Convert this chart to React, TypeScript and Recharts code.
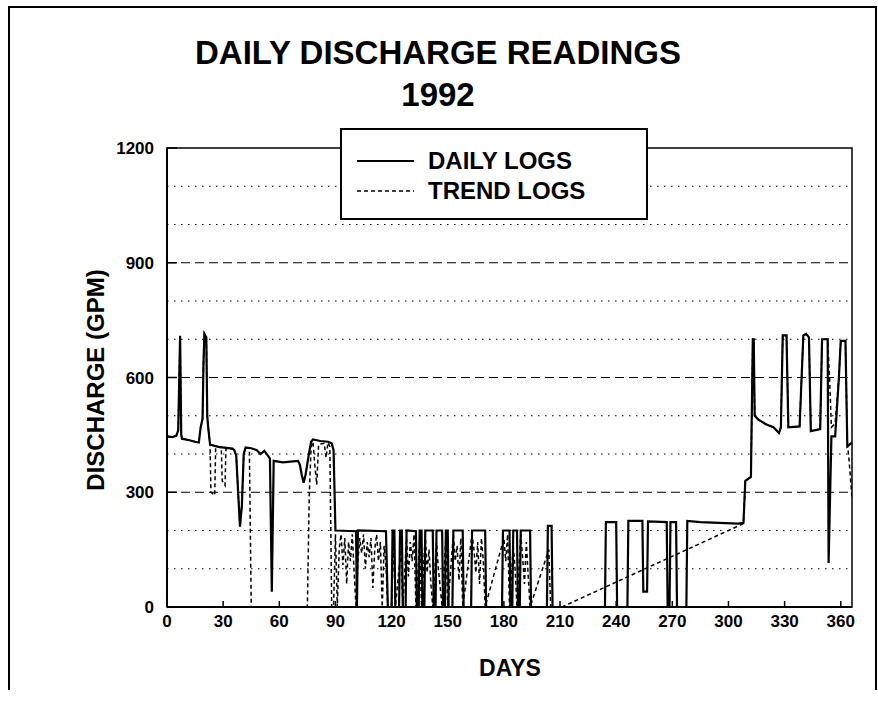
import React from 'react';
import {
  LineChart,
  Line,
  XAxis,
  YAxis,
  ReferenceLine,
  ReferenceArea,
  Legend,
} from 'recharts';

const FONT = '"Liberation Sans", Arial, Helvetica, sans-serif';

const xTicks = [0, 30, 60, 90, 120, 150, 180, 210, 240, 270, 300, 330, 360];
const yTicks = [0, 300, 600, 900, 1200];
const gridMajor = [300, 600, 900];
const gridMinor = [100, 200, 400, 500, 700, 800, 1000, 1100];

// [day, discharge gpm]
const dailyLogs: [number, number][] = [
  [0, 446], [3, 444], [5, 448], [6, 462], [7, 709], [7.6, 452], [8, 440], [12, 436], [15, 432],
  [17, 430], [18, 470], [19, 492], [19.5, 640], [20, 714], [21, 705], [21.5, 500], [22, 470],
  [23, 425], [25, 422], [28, 418], [32, 416], [35, 414], [36, 410], [37, 395], [38, 300],
  [39, 210], [40, 265], [41, 400], [42, 417], [45, 415], [48, 410], [50, 400], [52, 408],
  [54, 395], [55, 388], [56, 40], [57, 382], [62, 378], [66, 380], [70, 382], [71, 372],
  [72, 345], [73, 325], [74, 345], [76, 405], [77, 432], [78, 438], [82, 434], [86, 432],
  [88, 428], [89, 410], [90, 200], [101, 198], [101.5, 0], [102, 200], [117, 198], [118, 0],
  [120, 0], [120.5, 200], [121.5, 200], [122, 0], [124, 0], [124.5, 200], [125.5, 200], [126, 0],
  [127.5, 0], [128, 200], [133, 198], [133.5, 0], [134.5, 0], [135, 200], [136, 200], [136.5, 0],
  [137.5, 0], [138, 200], [142, 200], [142.5, 0], [143.5, 0], [144, 200], [147, 200], [147.5, 0],
  [148.5, 0], [149, 200], [150, 200], [150.5, 0], [152.5, 0], [153, 200], [158, 200], [158.5, 0],
  [162.5, 0], [163, 200], [170, 200], [170.5, 0], [179, 0], [179.5, 200], [183, 200], [183.5, 0],
  [184.5, 0], [185, 200], [187, 200], [187.5, 0], [188.5, 0], [189, 200], [194, 200], [194.5, 0],
  [203, 0], [203.5, 212], [205.5, 212], [206, 0], [234, 0], [234.5, 222], [240, 222], [240.5, 0],
  [246, 0], [246.5, 225], [254, 225], [254.5, 40], [256.5, 40], [257, 224], [267, 222], [267.5, 0],
  [268.5, 0], [269, 222], [272, 222], [272.5, 0], [277.5, 0], [278, 225], [285, 222], [295, 220],
  [305, 218], [308, 220], [309, 330], [312, 340], [313, 700], [313.5, 700], [314, 500], [316, 490],
  [320, 478], [324, 470], [327, 455], [328, 470], [329, 710], [331, 710], [332, 470], [338, 472],
  [340, 710], [341.5, 714], [343, 705], [344, 460], [349, 465], [350, 700], [353, 700], [353.5, 115],
  [355, 446], [357, 446], [359, 600], [360, 696], [362.5, 696], [363.5, 420], [366, 430],
];

const trendLogs: [number, number][] = [
  [0, 446], [3, 444], [5, 448], [6, 462], [7, 709], [7.6, 452], [8, 440], [12, 436], [15, 432],
  [17, 430], [18, 470], [19, 492], [19.5, 640], [20, 714], [21, 705], [21.5, 500], [22, 470],
  [23, 425], [23.5, 300], [25.5, 292], [26, 418], [29, 418], [29.5, 330], [31, 318], [31.5, 414],
  [35, 414], [36, 410], [37, 395], [38, 300], [39, 210], [40, 265], [41, 400], [42, 417], [44, 414],
  [45, 0], [75, 0], [76, 290], [77, 420], [78, 432], [79, 370], [80, 320], [81, 425], [84, 428],
  [85, 390], [86, 430], [87, 420], [88, 0], [89, 0], [90, 190], [91, 0], [92, 150], [93, 190],
  [94, 110], [95, 180], [96, 60], [97, 170], [98, 120], [99, 190], [100, 90], [101, 0], [102, 120],
  [103, 180], [104, 140], [105, 190], [106, 100], [107, 170], [108, 130], [109, 180], [110, 50],
  [111, 150], [112, 190], [113, 120], [114, 170], [115, 0], [116, 160], [117, 110], [118, 0],
  [120, 0], [121, 190], [122, 0], [125, 150], [126, 0], [128, 180], [129, 80], [130, 170],
  [131, 120], [132, 190], [133, 0], [135, 170], [136, 0], [138, 190], [139, 90], [140, 150],
  [141, 60], [142, 0], [144, 170], [145, 100], [146, 50], [147, 0], [149, 180], [150, 0],
  [153, 190], [154, 120], [155, 160], [156, 70], [157, 180], [158, 0], [163, 190], [164, 150],
  [165, 90], [166, 170], [167, 60], [168, 180], [169, 120], [170, 0], [180, 180], [181, 120],
  [182, 190], [183, 0], [185, 160], [186, 100], [187, 0], [189, 190], [190, 130], [191, 60],
  [192, 170], [193, 80], [194, 0], [204, 150], [205, 0], [211, 0], [308, 218], [309, 330],
  [312, 340], [313, 700], [313.5, 700], [314, 500], [316, 490], [320, 478], [324, 470], [327, 455],
  [328, 470], [329, 710], [331, 710], [332, 470], [338, 472], [340, 710], [341.5, 714], [343, 705],
  [344, 460], [349, 465], [350, 700], [353, 700], [354, 600], [355, 470], [357, 480], [359, 600],
  [360, 696], [362.5, 696], [363.5, 430], [364.5, 380], [366, 285],
];

const dailyData = dailyLogs.map(([day, gpm]) => ({ day, gpm }));
const trendData = trendLogs.map(([day, gpm]) => ({ day, gpm }));

const XTick = ({ x, y, payload }: any) => (
  <g>
    <line x1={x} x2={x} y1={y} y2={y - 6} stroke="#000" strokeWidth={1.5} />
    <text x={x} y={y + 20} textAnchor="middle" fontFamily={FONT} fontWeight={700} fontSize={17} fill="#000">
      {payload.value}
    </text>
  </g>
);

const YTick = ({ x, y, payload }: any) => (
  <g>
    <line x1={x + 13} x2={x + 23} y1={y} y2={y} stroke="#000" strokeWidth={1.5} />
    <text x={x} y={y} dy="0.36em" textAnchor="end" fontFamily={FONT} fontWeight={700} fontSize={17} fill="#000">
      {payload.value}
    </text>
  </g>
);

const LegendBox = () => (
  <div
    style={{
      width: 308,
      height: 92,
      boxSizing: 'border-box',
      border: '2px solid #000',
      background: '#fff',
      fontFamily: FONT,
      fontWeight: 700,
      fontSize: 24,
      color: '#000',
      paddingTop: 16,
    }}
  >
    {[
      { label: 'DAILY LOGS', dash: undefined },
      { label: 'TREND LOGS', dash: '4 3' },
    ].map((row) => (
      <div key={row.label} style={{ display: 'flex', alignItems: 'center', height: 30 }}>
        <svg width={86} height={10} style={{ flex: 'none' }}>
          <line x1={15} x2={72} y1={5} y2={5} stroke="#000" strokeWidth={row.dash ? 1.5 : 2} strokeDasharray={row.dash} />
        </svg>
        <span>{row.label}</span>
      </div>
    ))}
  </div>
);

export default function App() {
  return (
    <div style={{ position: 'absolute', left: 0, top: 0, width: 878, height: 702, background: '#fff' }}>
      <LineChart width={878} height={702} margin={{ top: 148, right: 26, bottom: 65, left: 0 }}>
        <XAxis
          type="number"
          dataKey="day"
          domain={[0, 366]}
          ticks={xTicks}
          interval={0}
          height={30}
          tickSize={0}
          tickMargin={0}
          tickLine={false}
          axisLine={{ stroke: '#000', strokeWidth: 2 }}
          tick={<XTick />}
          allowDataOverflow
        />
        <YAxis
          type="number"
          dataKey="gpm"
          domain={[0, 1200]}
          ticks={yTicks}
          interval={0}
          width={167}
          tickSize={0}
          tickMargin={13}
          tickLine={false}
          axisLine={{ stroke: '#000', strokeWidth: 2 }}
          tick={<YTick />}
          allowDataOverflow
        />
        {gridMinor.map((v) => (
          <ReferenceLine key={v} y={v} stroke="#000" strokeWidth={1.2} strokeDasharray="1.5 5.5" />
        ))}
        {gridMajor.map((v) => (
          <ReferenceLine key={v} y={v} stroke="#000" strokeWidth={1.2} strokeDasharray="9 5" />
        ))}
        <ReferenceArea x1={0} x2={366} y1={0} y2={1200} fill="none" stroke="#000" strokeWidth={1.5} />
        <Line
          data={trendData}
          dataKey="gpm"
          type="linear"
          stroke="#000"
          strokeWidth={1.5}
          strokeDasharray="4 3"
          dot={false}
          isAnimationActive={false}
        />
        <Line
          data={dailyData}
          dataKey="gpm"
          type="linear"
          stroke="#000"
          strokeWidth={2.2}
          dot={false}
          isAnimationActive={false}
        />
        <Legend
          layout="vertical"
          align="center"
          verticalAlign="middle"
          content={() => <LegendBox />}
          wrapperStyle={{ position: 'absolute', left: 340, top: 128, width: 308, height: 92 }}
        />
        <path d="M9 690 V7 H876 V690" fill="none" stroke="#000" strokeWidth={2} />
        <text x={438} y={64} textAnchor="middle" fontFamily={FONT} fontWeight={700} fontSize={33} fill="#000">
          DAILY DISCHARGE READINGS
        </text>
        <text x={438} y={106} textAnchor="middle" fontFamily={FONT} fontWeight={700} fontSize={33} fill="#000">
          1992
        </text>
        <text
          x={95}
          y={380}
          transform="rotate(-90 95 380)"
          textAnchor="middle"
          dy="0.36em"
          fontFamily={FONT}
          fontWeight={700}
          fontSize={24}
          fill="#000"
        >
          DISCHARGE (GPM)
        </text>
        <text x={510} y={676} textAnchor="middle" fontFamily={FONT} fontWeight={700} fontSize={23} fill="#000">
          DAYS
        </text>
      </LineChart>
    </div>
  );
}
